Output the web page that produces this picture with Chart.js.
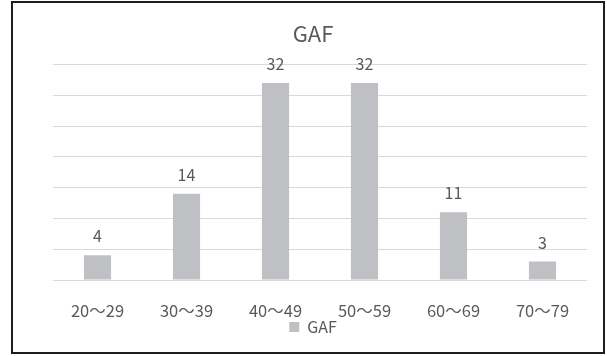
<!DOCTYPE html>
<html>
<head>
<meta charset="utf-8">
<script src="https://cdn.jsdelivr.net/npm/chart.js@4/dist/chart.umd.min.js"></script>
<style>
  html, body { margin: 0; padding: 0; background: #ffffff; }
  #wrap { position: absolute; left: 0; top: 0; width: 607px; height: 356px; }
</style>
</head>
<body>
<div id="wrap"><canvas id="c" width="607" height="356"></canvas></div>
<script>
// Age bands and GAF counts
const categories = ['20～29', '30～39', '40～49', '50～59', '60～69', '70～79'];
const gafCounts = [4, 14, 32, 32, 11, 3];
const seriesName = 'GAF';
const yMax = 35;
const yStep = 5;

const FONT = '"Noto Sans CJK JP", "Noto Sans", sans-serif';
const TEXT = '#595959';

// Outer frame around the chart
const framePlugin = {
  id: 'frame',
  beforeDraw(chart) {
    const ctx = chart.ctx;
    ctx.save();
    ctx.fillStyle = '#ffffff';
    ctx.fillRect(0, 0, chart.width, chart.height);
    ctx.strokeStyle = '#1e1e1e';
    ctx.lineWidth = 2;
    ctx.strokeRect(12, 2, 592, 351);
    ctx.restore();
  }
};

// Count printed above each bar
const valueLabels = {
  id: 'valueLabels',
  afterDatasetsDraw(chart) {
    const ctx = chart.ctx;
    const meta = chart.getDatasetMeta(0);
    ctx.save();
    ctx.fillStyle = TEXT;
    ctx.font = '16px ' + FONT;
    ctx.textAlign = 'center';
    ctx.textBaseline = 'alphabetic';
    meta.data.forEach((bar, i) => {
      ctx.fillText(String(chart.data.datasets[0].data[i]), bar.x, bar.y - 13);
    });
    ctx.restore();
  }
};

new Chart(document.getElementById('c'), {
  type: 'bar',
  data: {
    labels: categories,
    datasets: [{
      label: seriesName,
      data: gafCounts,
      backgroundColor: '#bfc0c4',
      borderWidth: 0,
      barPercentage: 0.305,
      categoryPercentage: 1.0
    }]
  },
  options: {
    responsive: false,
    animation: false,
    devicePixelRatio: 1,
    layout: { padding: { left: 39, right: 20, top: 0, bottom: 11 } },
    plugins: {
      title: {
        display: true,
        text: seriesName,
        color: TEXT,
        font: { family: FONT, size: 22, weight: 'normal' },
        padding: { top: 20, bottom: 18 }
      },
      legend: {
        display: true,
        position: 'bottom',
        labels: {
          color: TEXT,
          font: { family: FONT, size: 16 },
          boxWidth: 10,
          boxHeight: 10,
          padding: 2
        }
      },
      tooltip: { enabled: false }
    },
    scales: {
      x: {
        grid: { display: false, drawTicks: false },
        border: { display: false },
        ticks: { color: TEXT, font: { family: FONT, size: 16.5 }, padding: 21, maxRotation: 0 },
        afterFit(scale) { scale.height = 37; }
      },
      y: {
        min: 0,
        max: yMax,
        ticks: { display: false, stepSize: yStep },
        grid: { color: '#d9d9d9', lineWidth: 1, drawTicks: false },
        border: { display: false },
        afterFit(scale) { scale.width = 14; }
      }
    }
  },
  plugins: [framePlugin, valueLabels]
});
</script>
</body>
</html>
